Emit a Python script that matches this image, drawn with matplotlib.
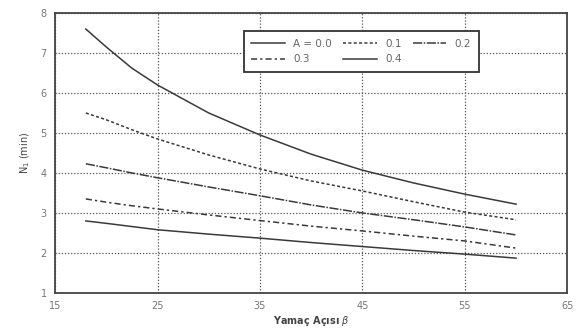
import numpy as np
import matplotlib.pyplot as plt

# values
beta = [18, 20, 22.5, 25, 30, 35, 40, 45, 50, 55, 60]
a00 = [7.6, 7.15, 6.62, 6.2, 5.5, 4.95, 4.47, 4.07, 3.75, 3.47, 3.22]
a01 = [5.5, 5.33, 5.08, 4.85, 4.45, 4.1, 3.8, 3.55, 3.28, 3.02, 2.83]
a02 = [4.23, 4.13, 4.0, 3.88, 3.65, 3.43, 3.2, 3.0, 2.83, 2.65, 2.45]
a03 = [3.35, 3.27, 3.18, 3.1, 2.95, 2.81, 2.67, 2.55, 2.42, 2.3, 2.12]
a04 = [2.8, 2.74, 2.66, 2.58, 2.47, 2.37, 2.26, 2.16, 2.06, 1.97, 1.87]
labels = ["A = 0.0", "0.1", "0.2", "0.3", "0.4"]

fig = plt.figure(figsize=(5.8, 3.34), dpi=100)
ax = fig.add_axes([0.095, 0.123, 0.883, 0.838])

col = "#3a3a3a"
l0, = ax.plot(beta, a00, color=col, lw=1.1, ls="-", label=labels[0])
l1, = ax.plot(beta, a01, color=col, lw=1.1, ls=(0, (2, 1.5)), label=labels[1])
l2, = ax.plot(beta, a02, color=col, lw=1.1, ls=(0, (6, 1, 1, 1)), label=labels[2])
l3, = ax.plot(beta, a03, color=col, lw=1.1, ls=(0, (4, 2, 1.5, 2)), label=labels[3])
l4, = ax.plot(beta, a04, color=col, lw=1.1, ls="-", label=labels[4])

ax.set_xlim(15, 65)
ax.set_ylim(1, 8)
ax.set_xticks([15, 25, 35, 45, 55, 65])
ax.set_yticks(range(1, 9))
ax.grid(True, ls=(0, (1, 1.5)), color="#555555", lw=0.9)
ax.tick_params(length=0, labelsize=7, labelcolor="#777777", pad=6)
for s in ax.spines.values():
    s.set_color("#444444")
    s.set_linewidth(1.3)

ax.set_xlabel("Yamaç Açısı $\\beta$", fontsize=7, fontweight="bold", color="#444444", labelpad=2)
ax.set_ylabel("N$_1$ (min)", fontsize=7, color="#444444", labelpad=6)

# row-wise order: A=0.0, 0.1, 0.2 / 0.3, 0.4
handles = [l0, l3, l1, l4, l2]
leg = ax.legend(handles, [h.get_label() for h in handles], ncol=3, loc="upper left",
                bbox_to_anchor=(0.358, 0.955), fontsize=7.5,
                frameon=True, fancybox=False, edgecolor="#333333", framealpha=1,
                handlelength=3.2, columnspacing=1.1, borderpad=0.75, labelspacing=0.55)
leg.get_frame().set_linewidth(1.3)
for t in leg.get_texts():
    t.set_color("#666666")

fig.savefig("out.png", dpi=100)
